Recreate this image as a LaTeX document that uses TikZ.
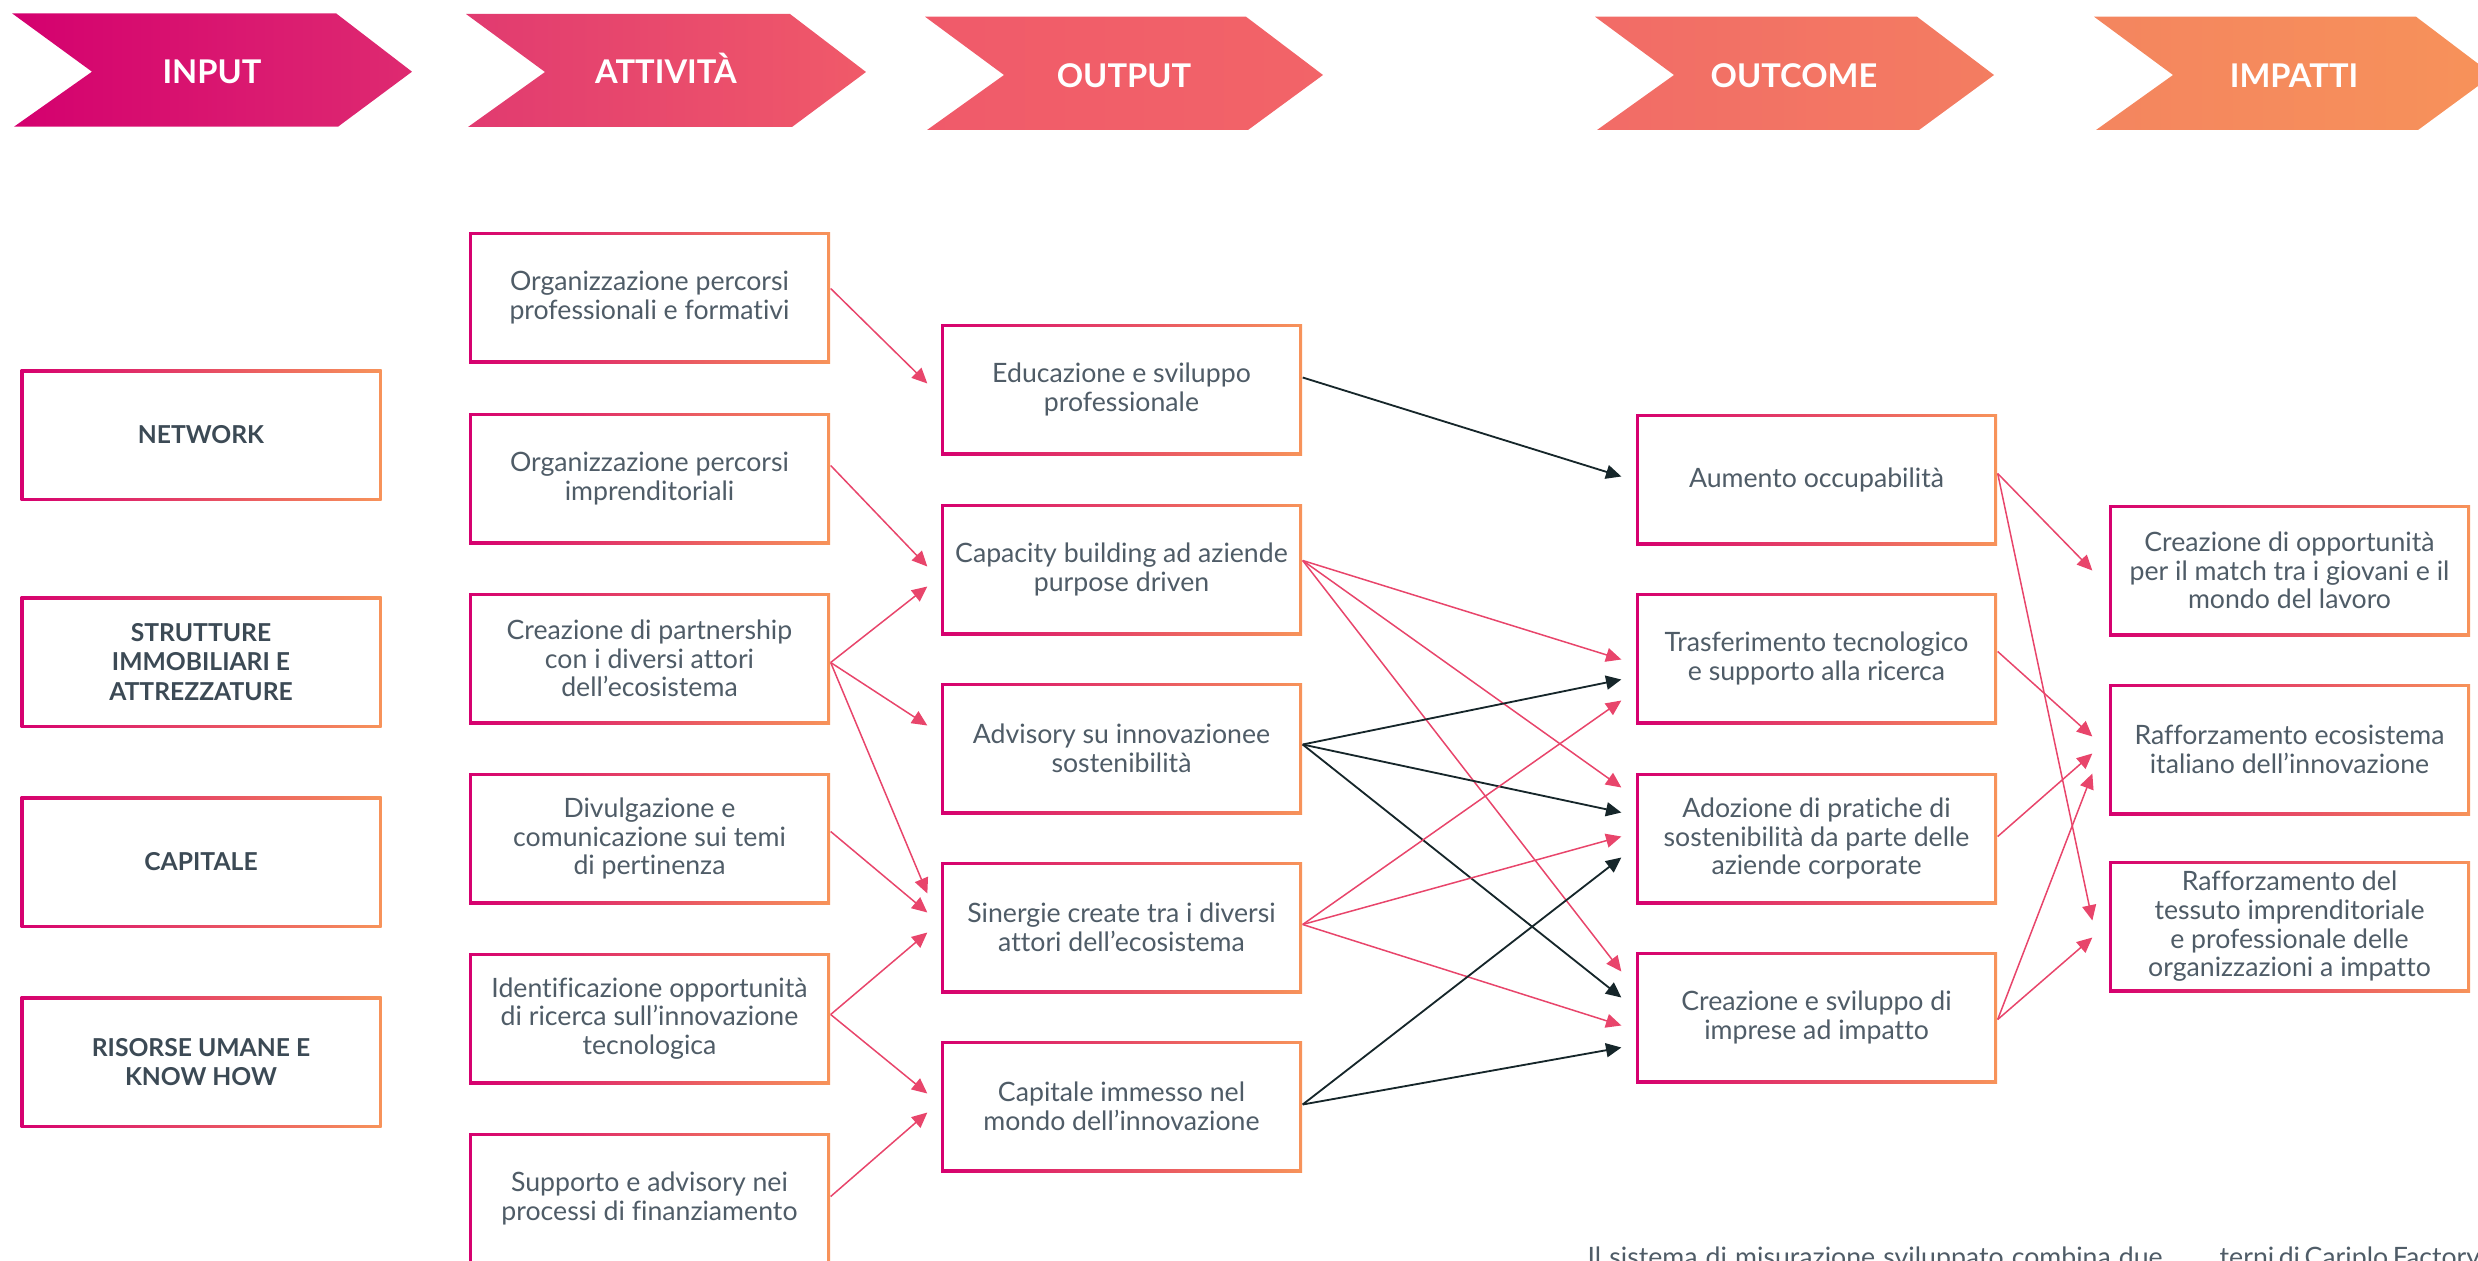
\documentclass[tikz,border=0pt]{standalone}
\usepackage{fontspec}
\setmainfont{Lato}[Ligatures=NoCommon]
\usetikzlibrary{arrows.meta,calc}
\definecolor{mag}{HTML}{D6006F}
\definecolor{org}{HTML}{F7935A}
\definecolor{pk}{HTML}{E8456B}
\definecolor{dk}{HTML}{16262A}
\definecolor{txt}{HTML}{4F5C67}
\definecolor{hd}{HTML}{3C4A55}
\definecolor{cA1}{HTML}{D4006F}\definecolor{cA2}{HTML}{DE2A70}
\definecolor{cB1}{HTML}{E13A70}\definecolor{cB2}{HTML}{F05A69}
\definecolor{cC1}{HTML}{F05A6A}\definecolor{cC2}{HTML}{F26468}
\definecolor{cD1}{HTML}{F26B67}\definecolor{cD2}{HTML}{F37D61}
\definecolor{cE1}{HTML}{F4855F}\definecolor{cE2}{HTML}{F7925A}
\begin{document}
\begin{tikzpicture}[x=0.3pt,y=-0.3pt,
  gbox/.style={minimum width=108.3pt, minimum height=39.3pt, inner sep=0pt, align=center,
    text=txt, font=\fontsize{8}{8.6}\selectfont,
    path picture={
      \shade[left color=mag,right color=org] (path picture bounding box.south west) rectangle (path picture bounding box.north east);
      \fill[white] ($(path picture bounding box.south west)+(0.9pt,0.9pt)$) rectangle ($(path picture bounding box.north east)-(0.9pt,0.9pt)$);
    }},
  ibox/.style={gbox, text=hd, font=\bfseries\fontsize{7.4}{8.8}\selectfont},
  chevtext/.style={anchor=base, text=white, font=\bfseries\fontsize{9.8}{10}\selectfont, inner sep=0pt},
  pa/.style={draw=pk, line width=0.45pt, -{Triangle[length=4.6pt,width=4.2pt]}},
  ka/.style={draw=dk, line width=0.55pt, -{Triangle[length=4.6pt,width=4.2pt]}},
  note/.style={anchor=base west, inner sep=0pt, text=txt, font=\fontsize{8}{9}\selectfont}
]
\useasboundingbox (0,0) rectangle (2478,1261);

% chevrons
\shade[left color=cA1,right color=cA2] (12,13.3) -- (336,13.3) -- (412,71.7) -- (338,126.7) -- (14,126.7) -- (92,71.7) -- cycle;
\shade[left color=cB1,right color=cB2] (466,14) -- (790,14) -- (866,72) -- (792,127) -- (468,127) -- (545,72) -- cycle;
\shade[left color=cC1,right color=cC2] (925,16.7) -- (1246,16.7) -- (1323,75) -- (1248,130) -- (927,130) -- (1004,75) -- cycle;
\shade[left color=cD1,right color=cD2] (1595,16.7) -- (1917,16.7) -- (1994,75) -- (1919,130) -- (1597,130) -- (1674,75) -- cycle;
\shade[left color=cE1,right color=cE2] (2094,16.7) -- (2416,16.7) -- (2493,75) -- (2418,130) -- (2096,130) -- (2173,75) -- cycle;
\node[chevtext] (hIn) at (212,83.5) {INPUT};
\node[chevtext] (hAt) at (666,83.5) {ATTIVITÀ};
\node[chevtext] (hOu) at (1124,87.5) {OUTPUT};
\node[chevtext] (hOc) at (1794,87.5) {OUTCOME};
\node[chevtext] (hIm) at (2294,87.5) {IMPATTI};

% inputs
\node[ibox] (i1) at (201,435) {NETWORK};
\node[ibox] (i2) at (201,662) {STRUTTURE\\IMMOBILIARI E\\ATTREZZATURE};
\node[ibox] (i3) at (201,862) {CAPITALE};
\node[ibox] (i4) at (201,1062) {RISORSE UMANE E\\KNOW HOW};

% activities
\node[gbox] (a1) at (649.5,297.5) {Organizzazione percorsi\\professionali e formativi};
\node[gbox] (a2) at (649.5,478.5) {Organizzazione percorsi\\imprenditoriali};
\node[gbox] (a3) at (649.5,658.5) {Creazione di partnership\\con i diversi attori\\dell’ecosistema};
\node[gbox] (a4) at (649.5,838.5) {Divulgazione e\\comunicazione sui temi\\di pertinenza};
\node[gbox] (a5) at (649.5,1018.5) {Identificazione opportunità\\di ricerca sull’innovazione\\tecnologica};
\node[gbox] (a6) at (649.5,1198.5) {Supporto e advisory nei\\processi di finanziamento};

% outputs
\node[gbox] (o1) at (1121.5,389.5) {Educazione e sviluppo\\professionale};
\node[gbox] (o2) at (1121.5,569.5) {Capacity building ad aziende\\purpose driven};
\node[gbox] (o3) at (1121.5,748.5) {Advisory su innovazionee\\sostenibilità};
\node[gbox] (o4) at (1121.5,927.5) {Sinergie create tra i diversi\\attori dell’ecosistema};
\node[gbox] (o5) at (1121.5,1106.5) {Capitale immesso nel\\mondo dell’innovazione};

% outcomes
\node[gbox] (c1) at (1816.5,479.5) {Aumento occupabilità};
\node[gbox] (c2) at (1816.5,658.5) {Trasferimento tecnologico\\e supporto alla ricerca};
\node[gbox] (c3) at (1816.5,838.5) {Adozione di pratiche di\\sostenibilità da parte delle\\aziende corporate};
\node[gbox] (c4) at (1816.5,1017.5) {Creazione e sviluppo di\\imprese ad impatto};

% impacts
\node[gbox] (m1) at (2289.5,570.5) {Creazione di opportunità\\per il match tra i giovani e il\\mondo del lavoro};
\node[gbox] (m2) at (2289.5,749.5) {Rafforzamento ecosistema\\italiano dell’innovazione};
\node[gbox] (m3) at (2289.5,926.5) {Rafforzamento del\\tessuto imprenditoriale\\e professionale delle\\organizzazioni a impatto};

% activity -> output
\draw[pa] ($(a1.east)+(0,-9)$) -- ($(o1.west)+(-13,-6)$);
\draw[pa] ($(a2.east)+(0,-13)$) -- ($(o2.west)+(-13,-3)$);
\draw[pa] ($(a3.east)+(0,4)$) -- ($(o2.west)+(-13,17)$);
\draw[pa] ($(a3.east)+(0,4)$) -- ($(o3.west)+(-13,-23)$);
\draw[pa] ($(a3.east)+(0,4)$) -- ($(o4.west)+(-13,-34)$);
\draw[pa] ($(a4.east)+(0,-7)$) -- ($(o4.west)+(-13,-15)$);
\draw[pa] ($(a5.east)+(0,-4)$) -- ($(o4.west)+(-13,5)$);
\draw[pa] ($(a5.east)+(0,-4)$) -- ($(o5.west)+(-13,-13)$);
\draw[pa] ($(a6.east)+(0,-2)$) -- ($(o5.west)+(-13,6)$);

% output -> outcome
\draw[ka] ($(o1.east)+(0,-12)$) -- ($(c1.west)+(-14,-3)$);
\draw[pa] ($(o2.east)+(0,-9)$) -- ($(c2.west)+(-14,1)$);
\draw[pa] ($(o2.east)+(0,-9)$) -- ($(c3.west)+(-14,-51)$);
\draw[pa] ($(o2.east)+(0,-9)$) -- ($(c4.west)+(-14,-46)$);
\draw[ka] ($(o3.east)+(0,-4)$) -- ($(c2.west)+(-14,21)$);
\draw[ka] ($(o3.east)+(0,-4)$) -- ($(c3.west)+(-14,-26)$);
\draw[ka] ($(o3.east)+(0,-4)$) -- ($(c4.west)+(-14,-20)$);
\draw[pa] ($(o4.east)+(0,-3)$) -- ($(c2.west)+(-14,42)$);
\draw[pa] ($(o4.east)+(0,-3)$) -- ($(c3.west)+(-14,-2)$);
\draw[pa] ($(o4.east)+(0,-3)$) -- ($(c4.west)+(-14,8)$);
\draw[ka] ($(o5.east)+(0,-2)$) -- ($(c3.west)+(-14,19)$);
\draw[ka] ($(o5.east)+(0,-2)$) -- ($(c4.west)+(-14,30)$);

% outcome -> impact
\draw[pa] ($(c1.east)+(0,-6)$) -- ($(m1.west)+(-16,0)$);
\draw[pa] ($(c1.east)+(0,-6)$) -- ($(m3.west)+(-16,-6)$);
\draw[pa] ($(c2.east)+(0,-7)$) -- ($(m2.west)+(-16,-13)$);
\draw[pa] ($(c3.east)+(0,-2)$) -- ($(m2.west)+(-16,4)$);
\draw[pa] ($(c4.east)+(0,2)$) -- ($(m2.west)+(-16,24)$);
\draw[pa] ($(c4.east)+(0,2)$) -- ($(m3.west)+(-16,11)$);

% bottom text (cut by the page edge, as in the reference)
\node[note] (t1) at (1587,1266) {\makebox[172.5pt][s]{Il sistema di misurazione sviluppato combina due}};
\node[note] (t2) at (2219,1266) {\makebox[76.5pt][s]{terni di Cariplo Factory}};
\end{tikzpicture}
\end{document}
